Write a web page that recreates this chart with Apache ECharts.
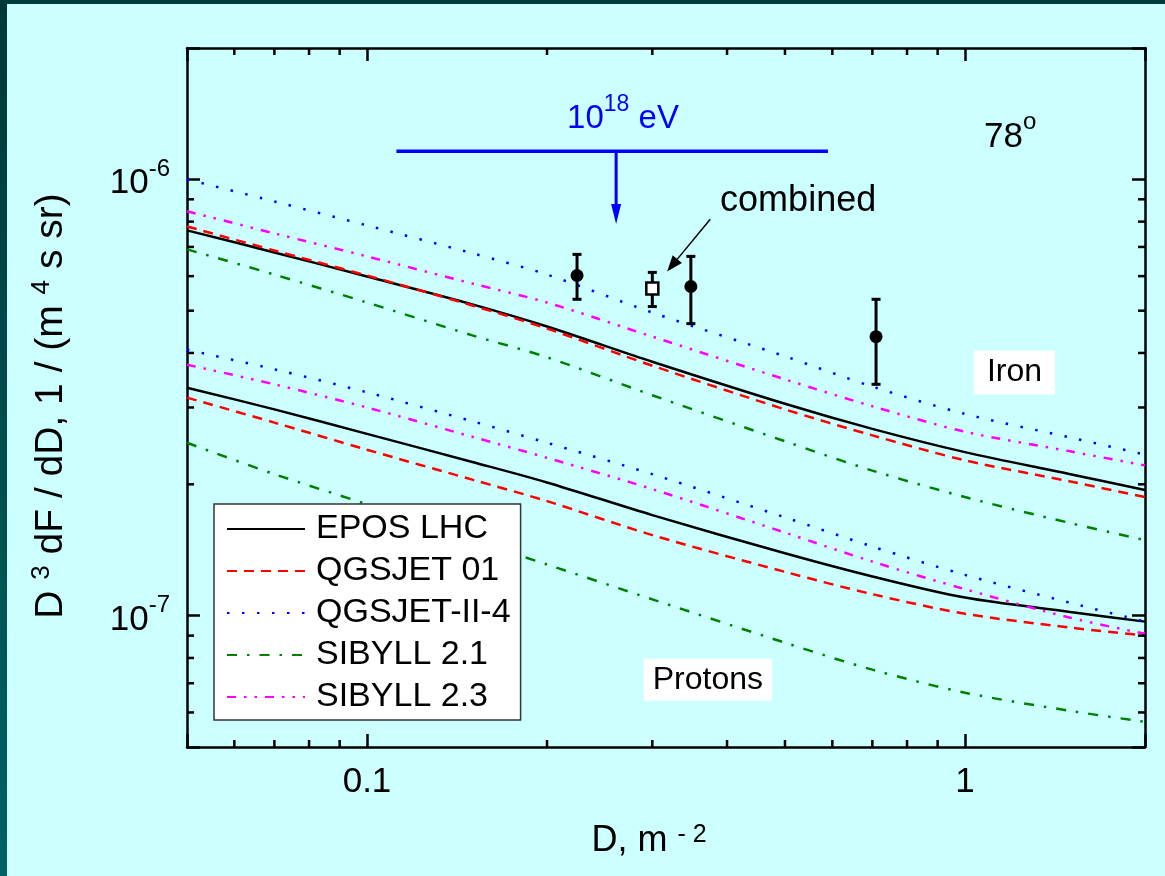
<!DOCTYPE html>
<html>
<head>
<meta charset="utf-8">
<script src="https://cdn.jsdelivr.net/npm/echarts@6/dist/echarts.min.js"></script>
<style>
  html, body { margin: 0; padding: 0; background: #ccffff; }
  #chart { width: 1165px; height: 876px; }
</style>
</head>
<body>
<div id="chart"></div>
<script>
// Axis ranges and tick labels
const X_MIN = 0.05, X_MAX = 2;
const Y_MIN = 5e-8, Y_MAX = 2e-6;
const X_TICKS = [0.1, 1];
const X_TICK_LABELS = ['0.1', '1'];
const Y_TICKS = [1e-7, 1e-6];
const Y_TICK_EXPONENTS = ['-7', '-6'];
const MINOR_X = [0.06, 0.07, 0.08, 0.09, 0.2, 0.3, 0.4, 0.5, 0.6, 0.7, 0.8, 0.9];
const MINOR_Y = [6e-8, 7e-8, 8e-8, 9e-8, 2e-7, 3e-7, 4e-7, 5e-7, 6e-7, 7e-7, 8e-7, 9e-7];

// Model names (legend order)
const MODELS = ['EPOS LHC', 'QGSJET 01', 'QGSJET-II-4', 'SIBYLL 2.1', 'SIBYLL 2.3'];

// Simulated density spectra, D^3 dF/dD, at these densities D (m^-2)
const D_GRID = [0.05, 0.07, 0.1, 0.15, 0.2, 0.3, 0.5, 0.7, 1, 1.5, 2];

// Iron primaries
const EPOS_FE  = [7.64e-7, 6.80e-7, 5.99e-7, 5.17e-7, 4.60e-7, 3.82e-7, 3.06e-7, 2.68e-7, 2.37e-7, 2.11e-7, 1.94e-7];
const QGS01_FE = [7.80e-7, 6.87e-7, 6.02e-7, 5.14e-7, 4.55e-7, 3.74e-7, 2.97e-7, 2.59e-7, 2.27e-7, 2.03e-7, 1.87e-7];
const QGS2_FE  = [1.00e-6, 8.90e-7, 7.84e-7, 6.77e-7, 6.05e-7, 4.95e-7, 3.93e-7, 3.35e-7, 2.90e-7, 2.56e-7, 2.34e-7];
const SIB21_FE = [6.91e-7, 6.05e-7, 5.22e-7, 4.39e-7, 3.91e-7, 3.20e-7, 2.51e-7, 2.15e-7, 1.87e-7, 1.63e-7, 1.49e-7];
const SIB23_FE = [8.45e-7, 7.52e-7, 6.66e-7, 5.77e-7, 5.22e-7, 4.36e-7, 3.48e-7, 3.02e-7, 2.64e-7, 2.38e-7, 2.21e-7];

// Proton primaries
const EPOS_P  = [3.33e-7, 2.97e-7, 2.61e-7, 2.25e-7, 2.02e-7, 1.70e-7, 1.39e-7, 1.23e-7, 1.10e-7, 1.02e-7, 9.69e-8];
const QGS01_P = [3.16e-7, 2.77e-7, 2.40e-7, 2.05e-7, 1.83e-7, 1.53e-7, 1.26e-7, 1.12e-7, 1.01e-7, 9.39e-8, 9.00e-8];
const QGS2_P  = [4.07e-7, 3.67e-7, 3.25e-7, 2.79e-7, 2.49e-7, 2.11e-7, 1.68e-7, 1.44e-7, 1.24e-7, 1.07e-7, 9.69e-8];
const SIB21_P = [2.49e-7, 2.11e-7, 1.80e-7, 1.49e-7, 1.31e-7, 1.09e-7, 8.67e-8, 7.52e-8, 6.66e-8, 6.05e-8, 5.71e-8];
const SIB23_P = [3.76e-7, 3.39e-7, 3.00e-7, 2.57e-7, 2.30e-7, 1.95e-7, 1.55e-7, 1.33e-7, 1.15e-7, 9.89e-8, 9.09e-8];

// Measured spectrum points with error bars
const MEAS_D    = [0.2245, 0.348, 0.710];
const MEAS_FLUX = [6.02e-7, 5.68e-7, 4.36e-7];
const MEAS_LO   = [5.31e-7, 4.67e-7, 3.39e-7];
const MEAS_HI   = [6.73e-7, 6.66e-7, 5.31e-7];
// Combined estimate
const COMB_D    = [0.30];
const COMB_FLUX = [5.62e-7];
const COMB_LO   = [5.11e-7];
const COMB_HI   = [6.12e-7];

const FONT = '"Liberation Sans", Arial, Helvetica, sans-serif';

const STYLES = {
  'EPOS LHC':    { color: '#000000', type: 'solid', width: 2.5 },
  'QGSJET 01':   { color: '#ff0000', type: [10, 7], width: 2.5 },
  'QGSJET-II-4': { color: '#0000ff', type: [2.5, 12.5], width: 2.5 },
  'SIBYLL 2.1':  { color: '#008000', type: [10, 10, 2.5, 10], width: 2.5 },
  'SIBYLL 2.3':  { color: '#ff00ff', type: [9, 8, 2.5, 8, 2.5, 8], width: 2.5 }
};

function pairs(xs, ys) { return xs.map((x, i) => [x, ys[i]]); }
function sameDecade(a, b) { return Math.abs(Math.log10(a) - Math.log10(b)) < 1e-6; }

function curve(name, ys) {
  const s = STYLES[name];
  return {
    type: 'line', name: name, data: pairs(D_GRID, ys),
    symbol: 'none', showSymbol: false, smooth: 0.3, silent: true,
    lineStyle: { color: s.color, type: s.type, width: s.width },
    itemStyle: { color: s.color }, z: 3
  };
}

function errorBars(xs, ys, lo, hi) {
  return {
    type: 'custom', silent: true, z: 5,
    data: xs.map((x, i) => [x, ys[i], lo[i], hi[i]]),
    encode: { x: 0, y: 1 },
    renderItem: function (params, api) {
      const x = api.value(0);
      const pLo = api.coord([x, api.value(2)]);
      const pHi = api.coord([x, api.value(3)]);
      const cap = 4.5;
      const st = { stroke: '#000', lineWidth: 3 };
      return {
        type: 'group', children: [
          { type: 'line', shape: { x1: pLo[0], y1: pLo[1], x2: pHi[0], y2: pHi[1] }, style: st },
          { type: 'line', shape: { x1: pLo[0] - cap, y1: pLo[1], x2: pLo[0] + cap, y2: pLo[1] }, style: st },
          { type: 'line', shape: { x1: pHi[0] - cap, y1: pHi[1], x2: pHi[0] + cap, y2: pHi[1] }, style: st }
        ]
      };
    }
  };
}

const axisLineStyle = { color: '#000', width: 2.5 };
const supRich = {
  b: { fontFamily: FONT, fontSize: 35, lineHeight: 44, color: '#000', verticalAlign: 'bottom' },
  s: { fontFamily: FONT, fontSize: 24, lineHeight: 24, color: '#000', verticalAlign: 'top' }
};

const option = {
  animation: false,
  backgroundColor: '#ccffff',
  graphic: [
    { type: 'rect', left: 0, top: 0, shape: { width: 7, height: 876 },
      style: { fill: new echarts.graphic.LinearGradient(0, 0, 0, 1, [
        { offset: 0, color: '#003838' }, { offset: 1, color: '#006262' }]) }, z: 100 },
    { type: 'rect', left: 0, top: 0, shape: { width: 1165, height: 4 }, style: { fill: '#003a3a' }, z: 100 }
  ],
  grid: { left: 187, right: 20, top: 48, bottom: 129, containLabel: false },
  legend: {
    data: MODELS, orient: 'vertical', left: 214, top: 504,
    itemWidth: 78, itemHeight: 36, itemGap: 6,
    padding: [7, 10, 5, 12],
    backgroundColor: '#ffffff', borderColor: '#333333', borderWidth: 1.5, borderRadius: 0,
    selectedMode: false,
    itemStyle: { color: 'transparent', borderColor: 'transparent', borderWidth: 0, opacity: 0 },
    textStyle: { fontFamily: FONT, fontSize: 34, color: '#000', lineHeight: 36, padding: [0, 0, 0, 6] }
  },
  xAxis: [
    {
      type: 'log', logBase: 10, min: X_MIN, max: X_MAX, position: 'bottom',
      axisLine: { show: true, onZero: false, lineStyle: axisLineStyle },
      axisTick: { show: true, inside: true, length: 13, lineStyle: axisLineStyle },
      splitLine: { show: false },
      axisLabel: {
        margin: 18, fontFamily: FONT, fontSize: 35, color: '#000',
        formatter: function (v) {
          const i = X_TICKS.findIndex(t => sameDecade(t, v));
          return i >= 0 ? X_TICK_LABELS[i] : '';
        }
      },
      name: 'D, m {s|- 2}', nameLocation: 'middle', nameGap: 76,
      nameTextStyle: {
        fontFamily: FONT, fontSize: 36, color: '#000', padding: [0, 34, 0, 0],
        rich: {
          s: { fontFamily: FONT, fontSize: 25, lineHeight: 24, verticalAlign: 'top', color: '#000' }
        }
      }
    },
    {
      type: 'log', logBase: 10, min: X_MIN, max: X_MAX, position: 'top',
      axisLine: { show: true, onZero: false, lineStyle: axisLineStyle },
      axisTick: { show: true, inside: true, length: 13, lineStyle: axisLineStyle },
      splitLine: { show: false }, axisLabel: { show: false }
    }
  ],
  yAxis: [
    {
      type: 'log', logBase: 10, min: Y_MIN, max: Y_MAX, position: 'left',
      axisLine: { show: true, onZero: false, lineStyle: axisLineStyle },
      axisTick: { show: true, inside: true, length: 13, lineStyle: axisLineStyle },
      splitLine: { show: false },
      axisLabel: {
        margin: 17, rich: supRich,
        formatter: function (v) {
          const i = Y_TICKS.findIndex(t => sameDecade(t, v));
          return i >= 0 ? '{b|10}{s|' + Y_TICK_EXPONENTS[i] + '}' : '';
        }
      },
      name: 'D {s|3} dF / dD, 1 / (m {s|4} s sr)', nameLocation: 'middle', nameGap: 114,
      nameTextStyle: {
        fontFamily: FONT, fontSize: 39, color: '#000', lineHeight: 44, padding: [0, 17, 0, 0],
        rich: {
          s: { fontFamily: FONT, fontSize: 26, lineHeight: 26, verticalAlign: 'top', color: '#000' }
        }
      }
    },
    {
      type: 'log', logBase: 10, min: Y_MIN, max: Y_MAX, position: 'right',
      axisLine: { show: true, onZero: false, lineStyle: axisLineStyle },
      axisTick: { show: true, inside: true, length: 13, lineStyle: axisLineStyle },
      splitLine: { show: false }, axisLabel: { show: false }
    }
  ],
  series: [
    // minor ticks along bottom and top frame
    {
      type: 'custom', silent: true, z: 6,
      data: MINOR_X.map(v => [v, Y_MIN]), encode: { x: 0, y: 1 },
      renderItem: function (params, api) {
        const cs = params.coordSys;
        const px = api.coord([api.value(0), Y_MIN])[0];
        const st = { stroke: '#000', lineWidth: 2.5 };
        return { type: 'group', children: [
          { type: 'line', shape: { x1: px, y1: cs.y + cs.height, x2: px, y2: cs.y + cs.height - 7 }, style: st },
          { type: 'line', shape: { x1: px, y1: cs.y, x2: px, y2: cs.y + 7 }, style: st }
        ] };
      }
    },
    // minor ticks along left and right frame
    {
      type: 'custom', silent: true, z: 6,
      data: MINOR_Y.map(v => [X_MIN, v]), encode: { x: 0, y: 1 },
      renderItem: function (params, api) {
        const cs = params.coordSys;
        const py = api.coord([X_MIN, api.value(1)])[1];
        const st = { stroke: '#000', lineWidth: 2.5 };
        return { type: 'group', children: [
          { type: 'line', shape: { x1: cs.x, y1: py, x2: cs.x + 7, y2: py }, style: st },
          { type: 'line', shape: { x1: cs.x + cs.width, y1: py, x2: cs.x + cs.width - 7, y2: py }, style: st }
        ] };
      }
    },
    curve('EPOS LHC', EPOS_FE), curve('QGSJET 01', QGS01_FE), curve('QGSJET-II-4', QGS2_FE),
    curve('SIBYLL 2.1', SIB21_FE), curve('SIBYLL 2.3', SIB23_FE),
    curve('EPOS LHC', EPOS_P), curve('QGSJET 01', QGS01_P), curve('QGSJET-II-4', QGS2_P),
    curve('SIBYLL 2.1', SIB21_P), curve('SIBYLL 2.3', SIB23_P),
    errorBars(MEAS_D, MEAS_FLUX, MEAS_LO, MEAS_HI),
    errorBars(COMB_D, COMB_FLUX, COMB_LO, COMB_HI),
    {
      type: 'scatter', silent: true, z: 7, data: pairs(MEAS_D, MEAS_FLUX),
      symbol: 'circle', symbolSize: 13, itemStyle: { color: '#000', opacity: 1 }
    },
    {
      type: 'scatter', silent: true, z: 7, data: pairs(COMB_D, COMB_FLUX),
      symbol: 'rect', symbolSize: 12, itemStyle: { color: '#ffffff', borderColor: '#000', borderWidth: 2.5, opacity: 1 }
    },
    // annotations anchored in data coordinates
    {
      type: 'custom', silent: true, z: 8, data: [[X_MIN, Y_MIN]], encode: { x: 0, y: 1 },
      renderItem: function (params, api) {
        const c = (d, f) => api.coord([d, f]);
        const b1 = c(0.112, 1.16e-6), b2 = c(0.59, 1.16e-6);
        const a0 = c(0.261, 1.16e-6), a1 = c(0.261, 7.9e-7);
        const t18 = c(0.268, 1.41e-6);
        const t78 = c(1.19, 1.28e-6);
        const tComb = c(0.526, 8.9e-7);
        const k0 = c(0.375, 8.1e-7), k1 = c(0.3176, 6.15e-7);
        const tFe = c(1.21, 3.61e-7);
        const tP = c(0.3716, 7.13e-8);
        const blue = '#0000ff';
        // arrowhead for the "combined" pointer
        const dx = k1[0] - k0[0], dy = k1[1] - k0[1], len = Math.hypot(dx, dy);
        const ux = dx / len, uy = dy / len, hl = 16, hw = 6;
        const base = [k1[0] - ux * hl, k1[1] - uy * hl];
        const textBase = { fontFamily: FONT, fill: '#000', align: 'center', verticalAlign: 'middle' };
        return { type: 'group', children: [
          { type: 'line', shape: { x1: b1[0], y1: b1[1], x2: b2[0], y2: b2[1] }, style: { stroke: blue, lineWidth: 3.5 } },
          { type: 'line', shape: { x1: a0[0], y1: a0[1], x2: a1[0], y2: a1[1] - 16 }, style: { stroke: blue, lineWidth: 3 } },
          { type: 'polygon', shape: { points: [[a1[0] - 5, a1[1] - 20], [a1[0] + 5, a1[1] - 20], [a1[0], a1[1]]] }, style: { fill: blue } },
          { type: 'text', x: t18[0], y: t18[1], style: Object.assign({}, textBase, {
              text: '{b|10}{s|18}{b| eV}', fill: blue,
              rich: { b: { fontFamily: FONT, fontSize: 33, lineHeight: 42, fill: blue, verticalAlign: 'bottom' },
                      s: { fontFamily: FONT, fontSize: 23, lineHeight: 23, fill: blue, verticalAlign: 'top' } } }) },
          { type: 'text', x: t78[0], y: t78[1], style: Object.assign({}, textBase, {
              text: '{b|78}{s|o}',
              rich: { b: { fontFamily: FONT, fontSize: 35, lineHeight: 44, fill: '#000', verticalAlign: 'bottom' },
                      s: { fontFamily: FONT, fontSize: 24, lineHeight: 24, fill: '#000', verticalAlign: 'top' } } }) },
          { type: 'text', x: tComb[0], y: tComb[1], style: Object.assign({}, textBase, { text: 'combined', fontSize: 36 }) },
          { type: 'line', shape: { x1: k0[0], y1: k0[1], x2: base[0], y2: base[1] }, style: { stroke: '#000', lineWidth: 1.5 } },
          { type: 'polygon', shape: { points: [
              [base[0] - uy * hw, base[1] + ux * hw], [base[0] + uy * hw, base[1] - ux * hw], [k1[0], k1[1]]] },
            style: { fill: '#000' } },
          { type: 'text', x: tFe[0], y: tFe[1], style: Object.assign({}, textBase, {
              text: 'Iron', fontSize: 32, backgroundColor: '#ffffff', padding: [6, 13, 6, 13] }) },
          { type: 'text', x: tP[0], y: tP[1], style: Object.assign({}, textBase, {
              text: 'Protons', fontSize: 32, backgroundColor: '#ffffff', padding: [5, 9, 5, 9] }) }
        ] };
      }
    }
  ]
};

const chart = echarts.init(document.getElementById('chart'));
chart.setOption(option);
</script>
</body>
</html>
